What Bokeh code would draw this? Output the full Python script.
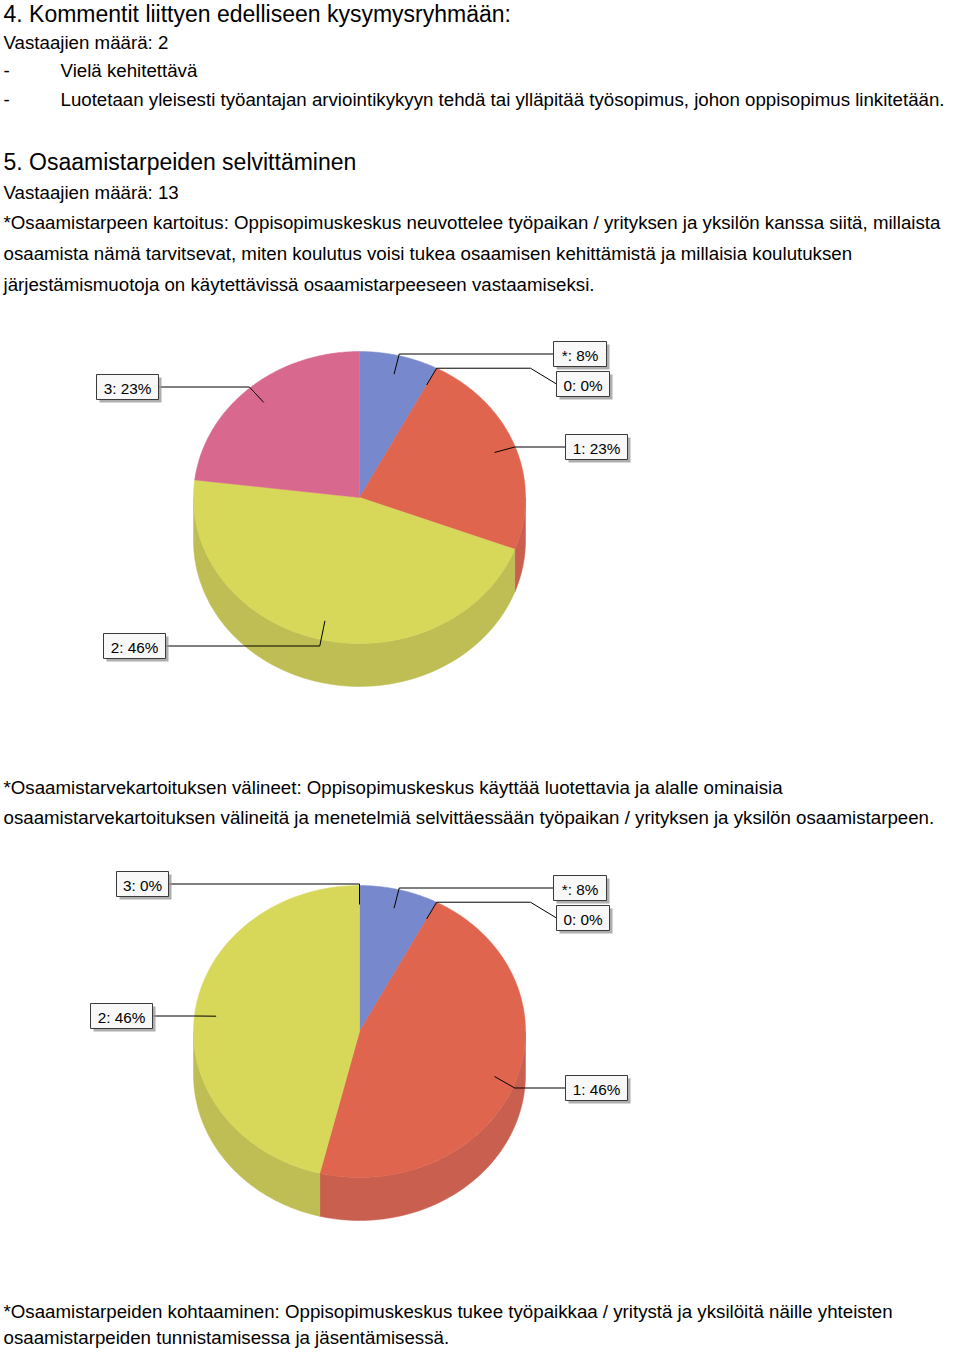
import numpy as np
from bokeh.plotting import figure
from bokeh.models import Range1d, ColumnDataSource
from bokeh.core.properties import value
from bokeh.embed import file_html
from bokeh.resources import INLINE

# ---------------- data ----------------
categories = ["*", "0", "1", "2", "3"]
pie1_counts = [1, 0, 3, 6, 3]   # Osaamistarpeen kartoitus (n=13)
pie2_counts = [1, 0, 6, 6, 0]   # Osaamistarvekartoituksen välineet (n=13)
top_colors = ["#7788cc", "#9a9a9a", "#e0654f", "#d7d75a", "#d9688f"]
side_colors = ["#6675b0", "#888888", "#c9604f", "#bebe55", "#b85a7a"]

# (text, x, vertical centre, kind)
text_lines = [
    ("4. Kommentit liittyen edelliseen kysymysryhmään:", 3, 13, "h"),
    ("Vastaajien määrä: 2", 3, 42, "b"),
    ("-", 3, 70, "b"),
    ("Vielä kehitettävä", 60, 70, "b"),
    ("-", 3, 99, "b"),
    ("Luotetaan yleisesti työantajan arviointikykyyn tehdä tai ylläpitää työsopimus, johon oppisopimus linkitetään.", 60, 99, "b"),
    ("5. Osaamistarpeiden selvittäminen", 3, 161, "h"),
    ("Vastaajien määrä: 13", 3, 192, "b"),
    ("*Osaamistarpeen kartoitus: Oppisopimuskeskus neuvottelee työpaikan / yrityksen ja yksilön kanssa siitä, millaista", 3, 222, "b"),
    ("osaamista nämä tarvitsevat, miten koulutus voisi tukea osaamisen kehittämistä ja millaisia koulutuksen", 3, 253, "b"),
    ("järjestämismuotoja on käytettävissä osaamistarpeeseen vastaamiseksi.", 3, 284, "b"),
    ("*Osaamistarvekartoituksen välineet: Oppisopimuskeskus käyttää luotettavia ja alalle ominaisia", 3, 787, "b"),
    ("osaamistarvekartoituksen välineitä ja menetelmiä selvittäessään työpaikan / yrityksen ja yksilön osaamistarpeen.", 3, 817, "b"),
    ("*Osaamistarpeiden kohtaaminen: Oppisopimuskeskus tukee työpaikkaa / yritystä ja yksilöitä näille yhteisten", 3, 1311, "b"),
    ("osaamistarpeiden tunnistamisessa ja jäsentämisessä.", 3, 1337, "b"),
]

# ---------------- layout ----------------
W, H = 944, 1349
FONT = "Liberation Sans"
RX, RY, DEPTH = 166, 146, 43
pie1_center = (359, 497)
pie2_center = (359, 1031)
# label boxes: category -> (left, top, width)
pie1_boxes = {"*": (553, 341, 53), "0": (556, 371, 53), "1": (565, 434, 62),
              "2": (103, 633, 62), "3": (96, 374, 62)}
pie2_boxes = {"*": (553, 875, 53), "0": (556, 905, 53), "1": (565, 1075, 62),
              "2": (90, 1003, 62), "3": (116, 871, 52)}
BOX_H = 25

p = figure(width=W, height=H, x_range=Range1d(0, W), y_range=Range1d(H, 0),
           output_backend="svg", toolbar_location=None, min_border=0)
p.axis.visible = False
p.grid.visible = False
p.outline_line_color = None
p.background_fill_color = "white"
p.border_fill_color = "white"

# text
for txt, x, y, kind in text_lines:
    p.text(x=[x], y=[y], text=[txt], text_font=value(FONT),
           text_font_size="23px" if kind == "h" else "18.7px",
           text_color="#000000", text_baseline="middle", text_align="left")


def ellipse_pt(cx, cy, t, r=1.0):
    return cx + r * RX * np.sin(t), cy - r * RY * np.cos(t)


def draw_pie(center, counts, boxes):
    cx, cy = center
    total = float(sum(counts))
    fr = np.array(counts) / total
    starts = np.concatenate([[0], np.cumsum(fr)[:-1]]) * 2 * np.pi
    ends = np.cumsum(fr) * 2 * np.pi
    # side walls (front half: t in [pi/2, 3pi/2])
    wx, wy, wc = [], [], []
    for a0, a1, sc in zip(starts, ends, side_colors):
        lo, hi = max(a0, np.pi / 2), min(a1, 3 * np.pi / 2)
        if hi > lo:
            ts = np.linspace(lo, hi, 80)
            xt, yt = ellipse_pt(cx, cy, ts)
            wx.append(list(np.concatenate([xt, xt[::-1]])))
            wy.append(list(np.concatenate([yt, yt[::-1] + DEPTH])))
            wc.append(sc)
    p.patches(xs=wx, ys=wy, fill_color=wc, line_color=wc, line_width=0.5)
    # top faces
    tx, ty, tc = [], [], []
    for a0, a1, c, col in zip(starts, ends, counts, top_colors):
        if c > 0:
            ts = np.linspace(a0, a1, 120)
            xt, yt = ellipse_pt(cx, cy, ts)
            tx.append([cx] + list(xt))
            ty.append([cy] + list(yt))
            tc.append(col)
    p.patches(xs=tx, ys=ty, fill_color=tc, line_color=tc, line_width=0.5)
    # labels
    lx, ly = [], []
    bl, br, bt, bb, labs, txx, tyy = [], [], [], [], [], [], []
    for cat, a0, a1, c in zip(categories, starts, ends, counts):
        mid = (a0 + a1) / 2
        ax, ay = ellipse_pt(cx, cy, mid, 0.87)
        ex, ey = ellipse_pt(cx, cy, mid, 1.0)
        left, top, w = boxes[cat]
        bcy = top + BOX_H / 2
        right_side = left > cx
        edge_x = left if right_side else left + w
        if abs(ey - bcy) > 12:
            knee_x = edge_x - 26 if right_side else edge_x + 26
            lx.append([ax, ex, knee_x, edge_x])
            ly.append([ay, ey, ey, bcy])
        else:
            lx.append([ax, ex, edge_x])
            ly.append([ay, bcy, bcy])
        bl.append(left); br.append(left + w); bt.append(top); bb.append(top + BOX_H)
        labs.append(f"{cat}: {round(100 * c / total)}%")
        txx.append(left + w / 2); tyy.append(bcy + 1)
    p.multi_line(xs=lx, ys=ly, line_color="#000000", line_width=1)
    src = ColumnDataSource(dict(l=bl, r=br, t=bt, b=bb,
                                ls=[v + 3 for v in bl], rs=[v + 3 for v in br],
                                ts=[v + 3 for v in bt], bs=[v + 3 for v in bb],
                                x=txx, y=tyy, text=labs))
    p.quad(left="ls", right="rs", top="ts", bottom="bs", source=src,
           fill_color="#9a9a9a", fill_alpha=0.8, line_color=None)
    p.quad(left="l", right="r", top="t", bottom="b", source=src,
           fill_color="#f8f8f8", line_color="#3a3a3a", line_width=1)
    p.text(x="x", y="y", text="text", source=src, text_font=value(FONT),
           text_font_size="15.3px", text_color="#000000",
           text_align="center", text_baseline="middle")


draw_pie(pie1_center, pie1_counts, pie1_boxes)
draw_pie(pie2_center, pie2_counts, pie2_boxes)

open("out.html", "w").write(file_html(p, INLINE))
